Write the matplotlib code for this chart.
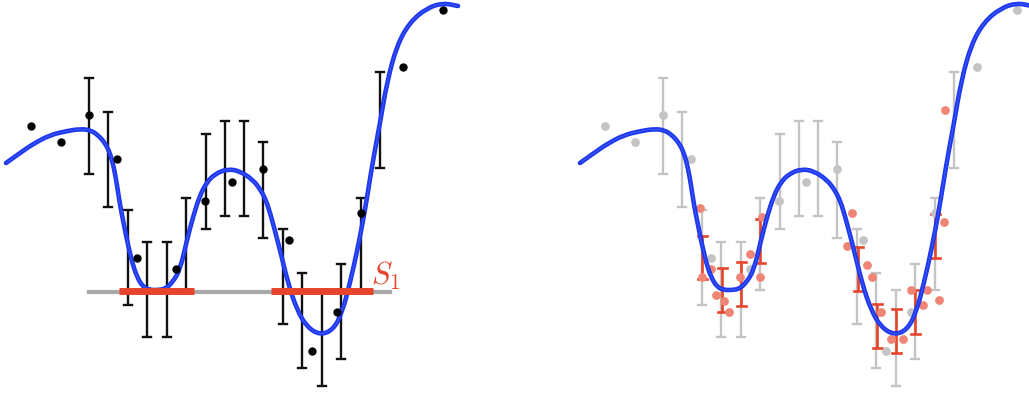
import matplotlib
matplotlib.use("Agg")
import matplotlib.pyplot as plt
from matplotlib.path import Path
from matplotlib.patches import PathPatch

plt.rcParams["mathtext.fontset"] = "cm"

# everything is in picture units (x right, y down), left panel; right panel is shifted
PANEL_SHIFT = 574

curve_x = [6, 20, 33, 50, 67, 80, 90, 98, 105, 110, 114, 117, 120, 124, 127, 132, 137,
           143, 150, 158, 165, 172, 180, 187, 193, 200, 207, 215, 227, 240, 253, 260, 265,
           270, 280, 288, 297, 307, 320, 333, 342, 350, 358, 365, 369, 374, 380, 387, 397,
           410, 427, 443, 458]
curve_y = [163, 153, 144, 135, 131, 129, 130, 135, 143, 153, 168, 185, 205, 225, 240, 262, 277,
           287, 290, 290, 289, 283, 270, 240, 217, 195, 182, 174, 169, 171, 180, 189, 198,
           212, 250, 283, 310, 327, 335, 330, 313, 283, 247, 210, 185, 155, 123, 82, 45,
           22, 8, 3, 6]

point_x = [31, 61, 89, 117, 137, 176, 205, 232, 263, 289, 312, 337, 361, 403, 443]
point_y = [126, 142, 115, 159, 258, 269, 201, 182, 169, 240, 351, 312, 213, 67, 10]

bar_x = [89, 108, 128, 147, 167, 186, 206, 225, 244, 263, 283, 302, 322, 341, 361, 380]
bar_lo = [78, 112, 210, 242, 242, 198, 134, 121, 121, 142, 229, 273, 290, 264, 198, 72]
bar_hi = [174, 207, 305, 337, 337, 290, 229, 216, 216, 238, 324, 368, 386, 359, 290, 168]

zero_line = (89, 390, 292)
s1_segments = [(119, 194), (271, 373)]

# right panel: new observations and predictive bars (absolute picture x)
new_x = [700, 711, 702, 716, 724, 729, 740, 750, 760, 762,
         852, 847, 867, 872, 881, 891, 903, 911, 923, 927, 939, 944, 945]
new_y = [208, 269, 277, 295, 301, 312, 277, 254, 277, 217,
         213, 246, 265, 277, 312, 339, 339, 290, 305, 290, 300, 222, 110]

pred_x = [702, 722, 741, 760, 858, 877, 896, 915, 935]
pred_lo = [236, 268, 262, 219, 247, 304, 309, 290, 214]
pred_hi = [279, 312, 306, 263, 291, 348, 353, 334, 258]

BLUE = "#1d38ee"
RED = "#e6452b"

fig = plt.figure(figsize=(10.29, 3.93), dpi=100)
ax = fig.add_axes([0, 0, 1, 1])
ax.set_xlim(0, 1029)
ax.set_ylim(393, 0)
ax.axis("off")


def draw_bars(xs, lo, hi, color, lw, cap):
    for x, a, b in zip(xs, lo, hi):
        ax.plot([x, x], [a, b], color=color, lw=lw, solid_capstyle="butt", zorder=2)
        ax.plot([x - cap, x + cap], [a, a], color=color, lw=lw, zorder=2)
        ax.plot([x - cap, x + cap], [b, b], color=color, lw=lw, zorder=2)


def smooth_path(xs, ys):
    # quadratic bezier through midpoints, read points act as control points
    verts = [(xs[0], ys[0])]
    codes = [Path.MOVETO]
    for i in range(1, len(xs) - 1):
        mx = (xs[i] + xs[i + 1]) / 2
        my = (ys[i] + ys[i + 1]) / 2
        verts += [(xs[i], ys[i]), (mx, my)]
        codes += [Path.CURVE3, Path.CURVE3]
    verts.append((xs[-1], ys[-1]))
    codes.append(Path.LINETO)
    return Path(verts, codes)


def draw_curve(shift):
    xs = [x + shift for x in curve_x]
    p = smooth_path(xs, curve_y)
    ax.add_patch(PathPatch(p, fill=False, edgecolor=BLUE, lw=3.3,
                           joinstyle="round", capstyle="round", zorder=4))
    ax.add_patch(PathPatch(p, fill=False, edgecolor="#4a62f0", lw=0.5, zorder=5))


# left panel
x0, x1, yz = zero_line
ax.plot([x0, x1], [yz, yz], color="#a9a9a9", lw=3, zorder=1)
draw_bars(bar_x, bar_lo, bar_hi, "#111111", 1.7, 4)
draw_curve(0)
for a, b in s1_segments:
    ax.plot([a, b], [yz - 1, yz - 1], color=RED, lw=5, solid_capstyle="butt", zorder=6)
ax.scatter(point_x, point_y, s=36, color="black", zorder=7, linewidths=0)
ax.text(371, 276, r"$S_1$", color=RED, fontsize=22, ha="left", va="center", zorder=8)

# right panel
gx = [x + PANEL_SHIFT for x in bar_x]
draw_bars(gx, bar_lo, bar_hi, "#c4c4c4", 1.7, 4)
ax.scatter([x + PANEL_SHIFT for x in point_x], point_y, s=40, color="#c4c4c4",
           zorder=3, linewidths=0)
ax.scatter(new_x, new_y, s=40, color="#ef8576", zorder=3, linewidths=0)
draw_curve(PANEL_SHIFT)
draw_bars(pred_x, pred_lo, pred_hi, RED, 1.9, 4.5)

fig.savefig("out.png", dpi=100)
